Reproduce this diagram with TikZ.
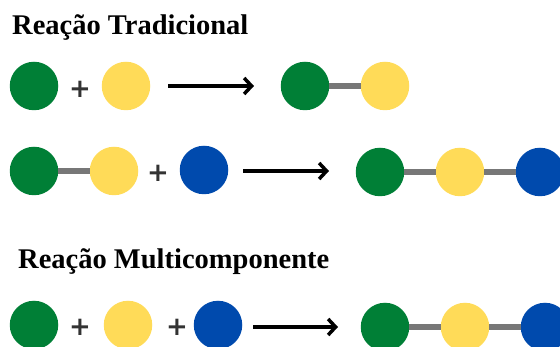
\documentclass[tikz,border=0pt]{standalone}
\usepackage{fontspec}
\setmainfont{Liberation Serif}
\newfontfamily\plusfont{DejaVu Sans}
\usetikzlibrary{arrows.meta}
\definecolor{cgreen}{HTML}{007F36}
\definecolor{cyellow}{HTML}{FFDB58}
\definecolor{cblue}{HTML}{004AAD}
\definecolor{cbond}{HTML}{777777}
\definecolor{cplus}{HTML}{333333}
\tikzset{
  atom/.style={circle, minimum size=48.5pt, inner sep=0pt, outer sep=0pt},
  ga/.style={atom, fill=cgreen},
  ya/.style={atom, fill=cyellow},
  ba/.style={atom, fill=cblue},
  bond/.style={draw=cbond, line width=6pt},
  plus/.style={text=cplus, font=\plusfont\bfseries\fontsize{26}{26}\selectfont, inner sep=0pt},
  rxn/.style={line width=3.5pt, -{Straight Barb[length=7.5pt,width=16pt,line width=3.5pt]}},
  title/.style={anchor=base west, inner sep=0pt, font=\bfseries\fontsize{28.5}{34}\selectfont}
}
\begin{document}
\begin{tikzpicture}[x=1pt,y=-1pt]
\useasboundingbox (0,0) rectangle (560,347);
% titles
\node[title] (t1) at (12,35) {Reação Tradicional};
\node[title] (t2) at (18,269) {Reação Multicomponente};
% row 1
\node[ga] (r1a) at (34,86) {};
\node[plus] (r1p) at (80,89) {+};
\node[ya] (r1b) at (126,86) {};
\coordinate (r1s) at (168,86);
\coordinate (r1e) at (254,86);
\draw[rxn] (r1s) -- (r1e);
\node[ga] (p1a) at (305,86) {};
\node[ya] (p1b) at (385,86) {};
\draw[bond] (p1a) -- (p1b);
% row 2
\node[ga] (r2a) at (34,171) {};
\node[ya] (r2b) at (114,171) {};
\draw[bond] (r2a) -- (r2b);
\node[plus] (r2p) at (158,173) {+};
\node[ba] (r2c) at (204,170) {};
\coordinate (r2s) at (243,171);
\coordinate (r2e) at (329,171);
\draw[rxn] (r2s) -- (r2e);
\node[ga] (p2a) at (380,172) {};
\node[ya] (p2b) at (460,172) {};
\node[ba] (p2c) at (540,172) {};
\draw[bond] (p2a) -- (p2b);
\draw[bond] (p2b) -- (p2c);
% row 3
\node[ga] (r3a) at (34,325) {};
\node[plus] (r3p) at (80,327) {+};
\node[ya] (r3b) at (128,325) {};
\node[plus] (r3q) at (177,327) {+};
\node[ba] (r3c) at (218,325) {};
\coordinate (r3s) at (253,327);
\coordinate (r3e) at (338,327);
\draw[rxn] (r3s) -- (r3e);
\node[ga] (p3a) at (385,327) {};
\node[ya] (p3b) at (465,327) {};
\node[ba] (p3c) at (545,327) {};
\draw[bond] (p3a) -- (p3b);
\draw[bond] (p3b) -- (p3c);
\end{tikzpicture}
\end{document}
